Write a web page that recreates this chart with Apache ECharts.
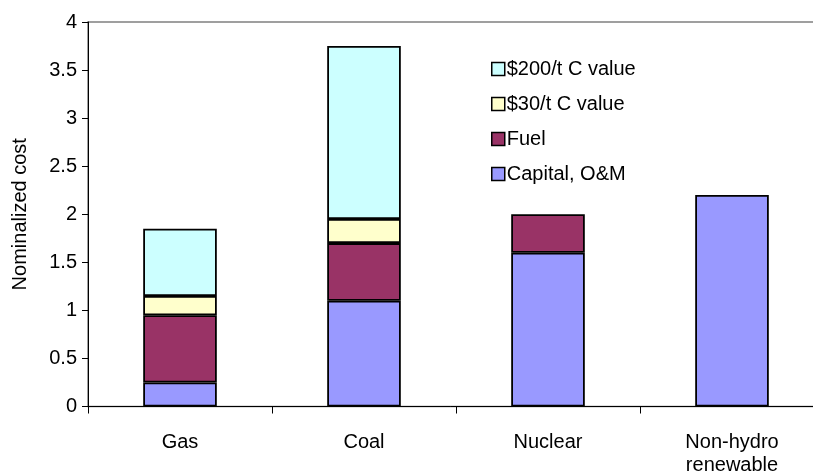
<!DOCTYPE html>
<html>
<head>
<meta charset="utf-8">
<script src="https://cdn.jsdelivr.net/npm/echarts@6/dist/echarts.min.js"></script>
<style>
  html, body { margin: 0; padding: 0; background: #ffffff; }
  #chart { width: 813px; height: 471px; }
</style>
</head>
<body>
<div id="chart"></div>
<script>
// Technologies along the horizontal axis
const categories = ['Gas', 'Coal', 'Nuclear', 'Non-hydro\nrenewable'];

// Stacked cost components (nominalized)
const capitalOM = [0.25, 1.1, 1.6, 2.2];
const fuel = [0.7, 0.6, 0.4, 0];
const carbon30 = [0.2, 0.25, 0, 0];
const carbon200 = [0.7, 1.8, 0, 0];

const seriesNames = ['Capital, O&M', 'Fuel', '$30/t C value', '$200/t C value'];
const seriesColors = ['#9999FF', '#993366', '#FFFFCC', '#CCFFFF'];
const seriesValues = [capitalOM, fuel, carbon30, carbon200];

const FONT = '"Liberation Sans", Arial, sans-serif';
const FS = 20;

const chart = echarts.init(document.getElementById('chart'), null, { renderer: 'canvas' });

const series = seriesNames.map((name, i) => ({
  name: name,
  type: 'bar',
  stack: 'cost',
  barWidth: '40%',
  data: seriesValues[i].map(v => (v === 0 ? null : v)),
  itemStyle: { color: seriesColors[i], borderColor: '#000000', borderWidth: 1.8 },
  emphasis: { disabled: true }
}));

chart.setOption({
  animation: false,
  backgroundColor: '#ffffff',
  textStyle: { fontFamily: FONT },
  grid: {
    left: 88, top: 22, width: 736, height: 384.5,
    outerBoundsMode: 'none',
    containLabel: false,
    show: true, borderColor: '#808080', borderWidth: 1.5, backgroundColor: 'transparent'
  },
  legend: {
    orient: 'vertical',
    left: 486, top: 54,
    itemWidth: 13, itemHeight: 13,
    itemGap: 15,
    icon: 'rect',
    selectedMode: false,
    data: seriesNames.slice().reverse(),
    itemStyle: { borderColor: '#000000', borderWidth: 1.5 },
    textStyle: { fontFamily: FONT, fontSize: FS, color: '#000000', padding: [0, 0, 0, -3] }
  },
  xAxis: {
    type: 'category',
    data: categories,
    boundaryGap: true,
    axisLine: { lineStyle: { color: '#000000', width: 1 } },
    axisTick: { show: true, length: 7, lineStyle: { color: '#000000' } },
    axisLabel: { color: '#000000', fontSize: FS, fontFamily: FONT, margin: 24, lineHeight: 23 }
  },
  yAxis: {
    type: 'value',
    min: 0, max: 4, interval: 0.5,
    name: 'Nominalized cost',
    nameLocation: 'middle',
    nameGap: 58,
    nameTextStyle: { color: '#000000', fontSize: FS, fontFamily: FONT },
    splitLine: { show: false },
    axisLine: { show: true, lineStyle: { color: '#000000', width: 1 } },
    axisTick: { show: true, length: 6, lineStyle: { color: '#000000' } },
    axisLabel: { color: '#000000', fontSize: FS, fontFamily: FONT, margin: 11 }
  },
  series: series
});
</script>
</body>
</html>
